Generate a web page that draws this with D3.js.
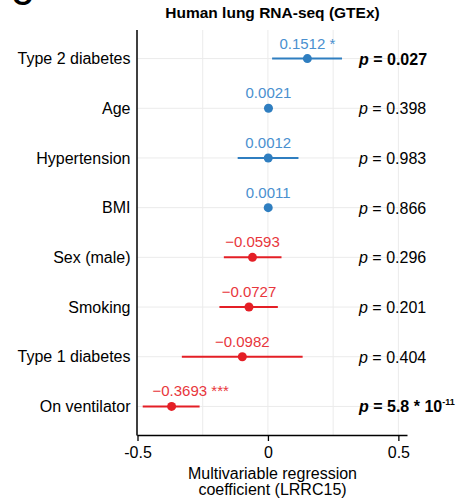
<!DOCTYPE html>
<html>
<head>
<meta charset="utf-8">
<script src="https://cdn.jsdelivr.net/npm/d3@7"></script>
<style>
  html, body { margin: 0; padding: 0; background: #fff; }
  svg { display: block; font-family: "Liberation Sans", Arial, sans-serif; }
</style>
</head>
<body>
<svg id="chart" width="467" height="499"></svg>
<script>
// Covariates of the multivariable model, top to bottom
const categories = ["Type 2 diabetes", "Age", "Hypertension", "BMI", "Sex (male)", "Smoking", "Type 1 diabetes", "On ventilator"];
// Regression coefficients and 95% confidence bounds
const estimates = [0.1512, 0.0021, 0.0012, 0.0011, -0.0593, -0.0727, -0.0982, -0.3693];
const ciLow  = [0.016, -0.004, -0.116, -0.005, -0.169, -0.186, -0.330, -0.480];
const ciHigh = [0.284, 0.008, 0.117, 0.007, 0.052, 0.038, 0.133, -0.262];
const stars  = ["*", "", "", "", "", "", "", "***"];
// p-values: mantissa text, optional power-of-ten exponent, significance flag
const pText  = ["0.027", "0.398", "0.983", "0.866", "0.296", "0.201", "0.404", "5.8 * 10"];
const pExp   = ["", "", "", "", "", "", "", "-11"];
const pSig   = [true, false, false, false, false, false, false, true];
const xTicks = [-0.5, 0, 0.5];
const xGrid  = [-0.25, 0, 0.25, 0.5];

const svg = d3.select("#chart");
const panel = { left: 137.5, right: 407.5, top: 30, bottom: 435 };

const x = d3.scaleLinear().domain([-0.5, 0.535]).range([panel.left, panel.right]);
const y = d3.scalePoint().domain(categories).range([panel.top, panel.bottom]).padding(0.575);

const blueLine = "#2f7ec0", blueText = "#4a90cf";
const redLine = "#e41f26", redText = "#e8363c";
const colLine = v => v >= 0 ? blueLine : redLine;
const colText = v => v >= 0 ? blueText : redText;

const rows = categories.map((c, i) => ({
  cat: c, est: estimates[i], lo: ciLow[i], hi: ciHigh[i], star: stars[i],
  p: pText[i], exp: pExp[i], sig: pSig[i]
}));

// Panel letter (mostly above the frame)
svg.append("text").attr("x", 12).attr("y", 5)
  .attr("font-size", 28).attr("font-weight", "bold").text("C");

// Title
svg.append("text").attr("x", (panel.left + panel.right) / 2).attr("y", 18)
  .attr("text-anchor", "middle").attr("font-size", 15.5).attr("font-weight", "bold")
  .text("Human lung RNA-seq (GTEx)");

// Gridlines
const grid = svg.append("g").attr("stroke", "#ebebeb").attr("stroke-width", 1);
grid.selectAll("line.v").data(xGrid).join("line").attr("class", "v")
  .attr("x1", d => x(d)).attr("x2", d => x(d)).attr("y1", panel.top).attr("y2", panel.bottom);
grid.selectAll("line.h").data(categories).join("line").attr("class", "h")
  .attr("x1", panel.left).attr("x2", panel.right).attr("y1", d => y(d)).attr("y2", d => y(d));

// X axis
const xAxis = svg.append("g").attr("transform", `translate(0,${panel.bottom})`)
  .call(d3.axisBottom(x).tickValues(xTicks).tickSize(6).tickPadding(6)
    .tickFormat(d => d === 0 ? "0" : String(d)));
xAxis.select(".domain").attr("stroke", "#000").attr("stroke-width", 1.5)
  .attr("d", `M${panel.left},0.5H${panel.right}`);
xAxis.selectAll(".tick line").attr("stroke", "#000").attr("stroke-width", 1.3);
xAxis.selectAll(".tick text").attr("font-size", 16).attr("fill", "#000")
  .attr("font-family", "Liberation Sans, Arial, sans-serif");

// Y axis (labels only, no tick marks)
const yAxis = svg.append("g").attr("transform", `translate(${panel.left},0)`)
  .call(d3.axisLeft(y).tickSize(0).tickPadding(7));
yAxis.select(".domain").attr("stroke", "#000").attr("stroke-width", 1.5)
  .attr("d", `M-0.5,${panel.top}V${panel.bottom + 0.5}`);
yAxis.selectAll(".tick text").attr("font-size", 16).attr("fill", "#000")
  .attr("font-family", "Liberation Sans, Arial, sans-serif");

// Axis title
const cx0 = (panel.left + panel.right) / 2;
const xt = svg.append("text").attr("text-anchor", "middle").attr("font-size", 16).attr("fill", "#000");
xt.append("tspan").attr("x", cx0).attr("y", 479).text("Multivariable regression");
xt.append("tspan").attr("x", cx0).attr("y", 495).text("coefficient (LRRC15)");

// Confidence intervals
svg.append("g").selectAll("line").data(rows).join("line")
  .attr("x1", d => x(d.lo)).attr("x2", d => x(d.hi))
  .attr("y1", d => y(d.cat)).attr("y2", d => y(d.cat))
  .attr("stroke", d => colLine(d.est)).attr("stroke-width", 2);

// Point estimates
svg.append("g").selectAll("circle").data(rows).join("circle")
  .attr("cx", d => x(d.est)).attr("cy", d => y(d.cat)).attr("r", 4.5)
  .attr("fill", d => colLine(d.est));

// Estimate labels above each point, kept clear of the y axis
const fmt = v => (v < 0 ? "\u2212" : "") + Math.abs(v).toFixed(4);
const labels = svg.append("g").selectAll("text").data(rows).join("text")
  .attr("y", d => y(d.cat) - 10)
  .attr("text-anchor", "middle").attr("font-size", 15)
  .attr("fill", d => colText(d.est))
  .text(d => fmt(d.est) + (d.star ? " " + d.star : ""));
labels.each(function (d) {
  const w = this.getComputedTextLength();
  let cx = x(d.est);
  const minLeft = panel.left + 15;
  if (cx - w / 2 < minLeft) cx = minLeft + w / 2;
  d3.select(this).attr("x", cx);
});

// p-values
const pv = svg.append("g").selectAll("text").data(rows).join("text")
  .attr("x", 359).attr("y", d => y(d.cat) + 6)
  .attr("font-size", 16).attr("fill", "#000")
  .attr("font-weight", d => d.sig ? "bold" : "normal");
pv.append("tspan").attr("font-style", "italic").text("p");
pv.append("tspan").text(d => " = " + d.p);
pv.filter(d => d.exp).append("tspan")
  .attr("font-size", 9).attr("dy", -7).text(d => d.exp);
</script>
</body>
</html>
